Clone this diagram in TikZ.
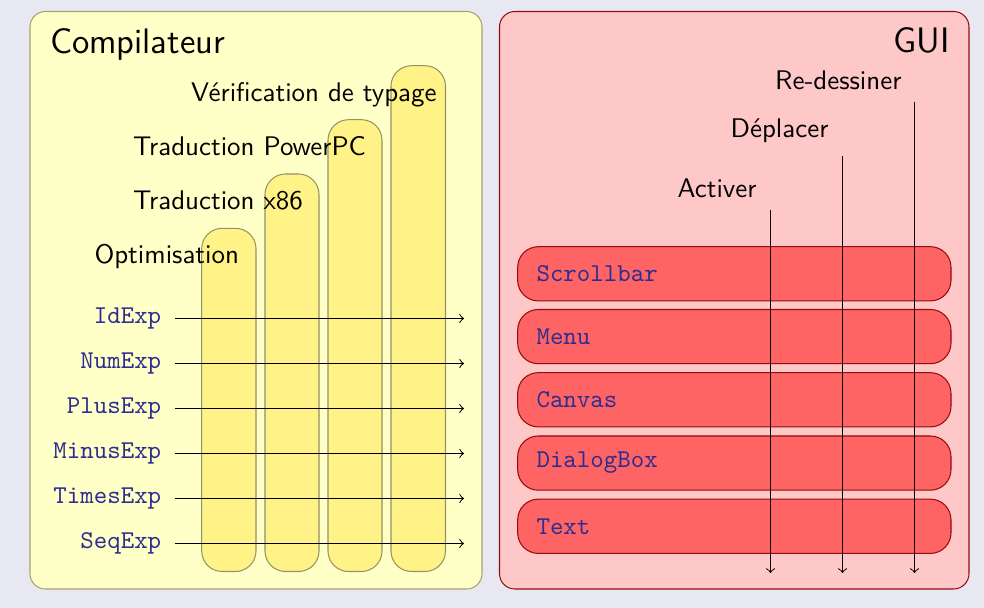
\documentclass[tikz,border=0pt]{standalone}
\usetikzlibrary{arrows}
\definecolor{bgcol}{RGB}{232,232,243}
\definecolor{leftfill}{RGB}{255,255,200}
\definecolor{leftdraw}{RGB}{165,160,110}
\definecolor{colfill}{RGB}{255,243,135}
\definecolor{coldraw}{RGB}{150,145,100}
\definecolor{rightfill}{RGB}{255,200,200}
\definecolor{rightdraw}{RGB}{150,10,10}
\definecolor{boxfill}{RGB}{255,100,100}
\definecolor{codecol}{RGB}{45,45,145}
\begin{document}
\begin{tikzpicture}[x=0.39pt,y=-0.39pt,
  panelL/.style={draw=leftdraw,fill=leftfill,rounded corners=6pt},
  panelR/.style={draw=rightdraw,fill=rightfill,rounded corners=6pt},
  colbox/.style={draw=coldraw,fill=colfill,rounded corners=8pt},
  redbox/.style={draw=rightdraw,fill=boxfill,rounded corners=8pt},
  title/.style={font=\sffamily\fontsize{13.8}{16}\selectfont,inner sep=0pt},
  lab/.style={font=\sffamily\fontsize{10.5}{12.5}\selectfont,inner sep=0pt},
  code/.style={font=\ttfamily,text=codecol},
  flow/.style={->,black,line width=0.4pt}]
\fill[bgcol] (0,0) rectangle (984,608);
\useasboundingbox (0,0) rectangle (984,608);
% panels
\draw[panelL] (30,11.5) rectangle (482,589);
\draw[panelR] (499.5,11.5) rectangle (969,589);
% columns
\draw[colbox] (201.7,228.3) rectangle (256,571.5);
\draw[colbox] (265,174) rectangle (319,571.5);
\draw[colbox] (328,119.7) rectangle (382,571.5);
\draw[colbox] (391,65.7) rectangle (445.5,571.5);
% red boxes
\foreach \t/\n/\name in {246.7/Scrollbar/sb,309.5/Menu/mn,372.7/Canvas/cv,436/DialogBox/db,499.2/Text/tx}{
  \draw[redbox] (517.7,\t) rectangle (951,\t+54.2);
  \node[code,anchor=west] (\name) at (527.5,\t+27.1) {\n};
}
% titles
\node[title,anchor=base west] (comp) at (49.5,54) {Compilateur};
\node[title,anchor=base east] (gui) at (950,53) {GUI};
% compiler phases
\node[lab,anchor=base west] (verif) at (190.7,101.7) {Vérification de typage};
\node[lab,anchor=base west] (ppc) at (132.5,156) {Traduction PowerPC};
\node[lab,anchor=base west] (x86) at (132.5,210) {Traduction x86};
\node[lab,anchor=base west] (opt) at (94,264) {Optimisation};
% expression classes and arrows
\foreach \y/\n/\name in {318.5/IdExp/e1,363.5/NumExp/e2,408.5/PlusExp/e3,453.5/MinusExp/e4,498.5/TimesExp/e5,543.5/SeqExp/e6}{
  \node[code,anchor=east,inner sep=0pt] (\name) at (161.7,\y) {\n};
  \coordinate (\name end) at (464,\y);
  \draw[flow] ([xshift=5pt]\name.east) -- (\name end);
}
% GUI operations
\coordinate (a1) at (770.5,210);
\coordinate (a1e) at (770.5,573);
\coordinate (a2) at (842.5,156);
\coordinate (a2e) at (842.5,573);
\coordinate (a3) at (914.5,102);
\coordinate (a3e) at (914.5,573);
\node[lab,anchor=base east] (act) at (757,198) {Activer};
\node[lab,anchor=base east] (dep) at (829,138) {Déplacer};
\node[lab,anchor=base east] (red) at (902,90) {Re-dessiner};
\draw[flow] (a1) -- (a1e);
\draw[flow] (a2) -- (a2e);
\draw[flow] (a3) -- (a3e);
\end{tikzpicture}
\end{document}
